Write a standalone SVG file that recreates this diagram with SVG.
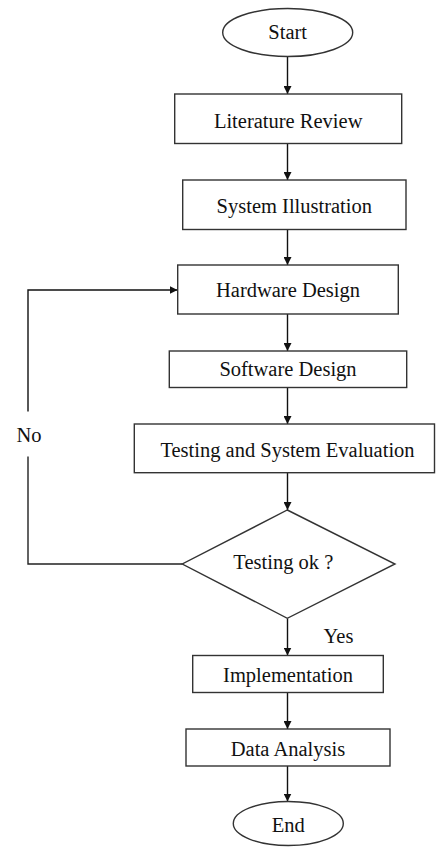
<svg xmlns="http://www.w3.org/2000/svg" width="436" height="848" viewBox="0 0 436 848">
<defs>
<marker id="ah" viewBox="0 0 10 10" refX="10" refY="5" markerWidth="8" markerHeight="8" markerUnits="userSpaceOnUse" orient="auto">
<path d="M0,0 L10,5 L0,10 Z" fill="#111"/>
</marker>
<style>
.n{fill:#fff;stroke:#333;stroke-width:1.4}
.t{font-family:"Liberation Serif","Times New Roman",serif;font-size:20.5px;fill:#111;text-anchor:middle}
.c{fill:none;stroke:#111;stroke-width:1.4;marker-end:url(#ah)}
.l{fill:none;stroke:#222;stroke-width:1.4}
</style>
</defs>
<rect width="436" height="848" fill="#fff"/>
<g id="connectors">
<line class="c" x1="287.5" y1="56.5" x2="287.5" y2="94"/>
<line class="c" x1="287.5" y1="143.5" x2="287.5" y2="180"/>
<line class="c" x1="287.5" y1="229.5" x2="287.5" y2="265"/>
<line class="c" x1="287.5" y1="314" x2="287.5" y2="351"/>
<line class="c" x1="287.5" y1="387.5" x2="287.5" y2="424"/>
<line class="c" x1="287.5" y1="473" x2="287.5" y2="510"/>
<line class="c" x1="287.5" y1="618.5" x2="287.5" y2="655.5"/>
<line class="c" x1="287.5" y1="692.5" x2="287.5" y2="729"/>
<line class="c" x1="287.5" y1="766" x2="287.5" y2="801.5"/>
<polyline class="l" points="182.5,564 28,564 28,456.5"/>
<polyline class="c" points="28,411.5 28,290 177.5,290"/>
<text class="t" x="29" y="441.5">No</text>
<text class="t" x="338.5" y="643">Yes</text>
</g>
<g id="start">
<ellipse class="n" cx="287.7" cy="32.5" rx="65" ry="24"/>
<text class="t" x="287.7" y="38.5">Start</text>
</g>
<g id="literature-review">
<rect class="n" x="174.7" y="94" width="227" height="49.5"/>
<text class="t" x="288.2" y="128.3">Literature Review</text>
</g>
<g id="system-illustration">
<rect class="n" x="182.7" y="180" width="223.3" height="49.5"/>
<text class="t" x="294.3" y="213.3">System Illustration</text>
</g>
<g id="hardware-design">
<rect class="n" x="177.7" y="265" width="220.6" height="49"/>
<text class="t" x="288" y="297.3">Hardware Design</text>
</g>
<g id="software-design">
<rect class="n" x="169.3" y="351" width="237.4" height="36.5"/>
<text class="t" x="288" y="376">Software Design</text>
</g>
<g id="testing-evaluation">
<rect class="n" x="134.3" y="424" width="300.2" height="48.7"/>
<text class="t" x="287.5" y="456.7">Testing and System Evaluation</text>
</g>
<g id="testing-ok">
<polygon class="n" points="287.3,510 395,564 287.3,618.3 182.3,564"/>
<text class="t" x="283.3" y="569.3">Testing ok ?</text>
</g>
<g id="implementation">
<rect class="n" x="192.7" y="655.5" width="190.6" height="37"/>
<text class="t" x="288" y="681.7">Implementation</text>
</g>
<g id="data-analysis">
<rect class="n" x="186" y="729" width="204" height="37"/>
<text class="t" x="288" y="755.7">Data Analysis</text>
</g>
<g id="end">
<ellipse class="n" cx="288.3" cy="823.5" rx="55" ry="22"/>
<text class="t" x="288.3" y="831.5">End</text>
</g>
</svg>
